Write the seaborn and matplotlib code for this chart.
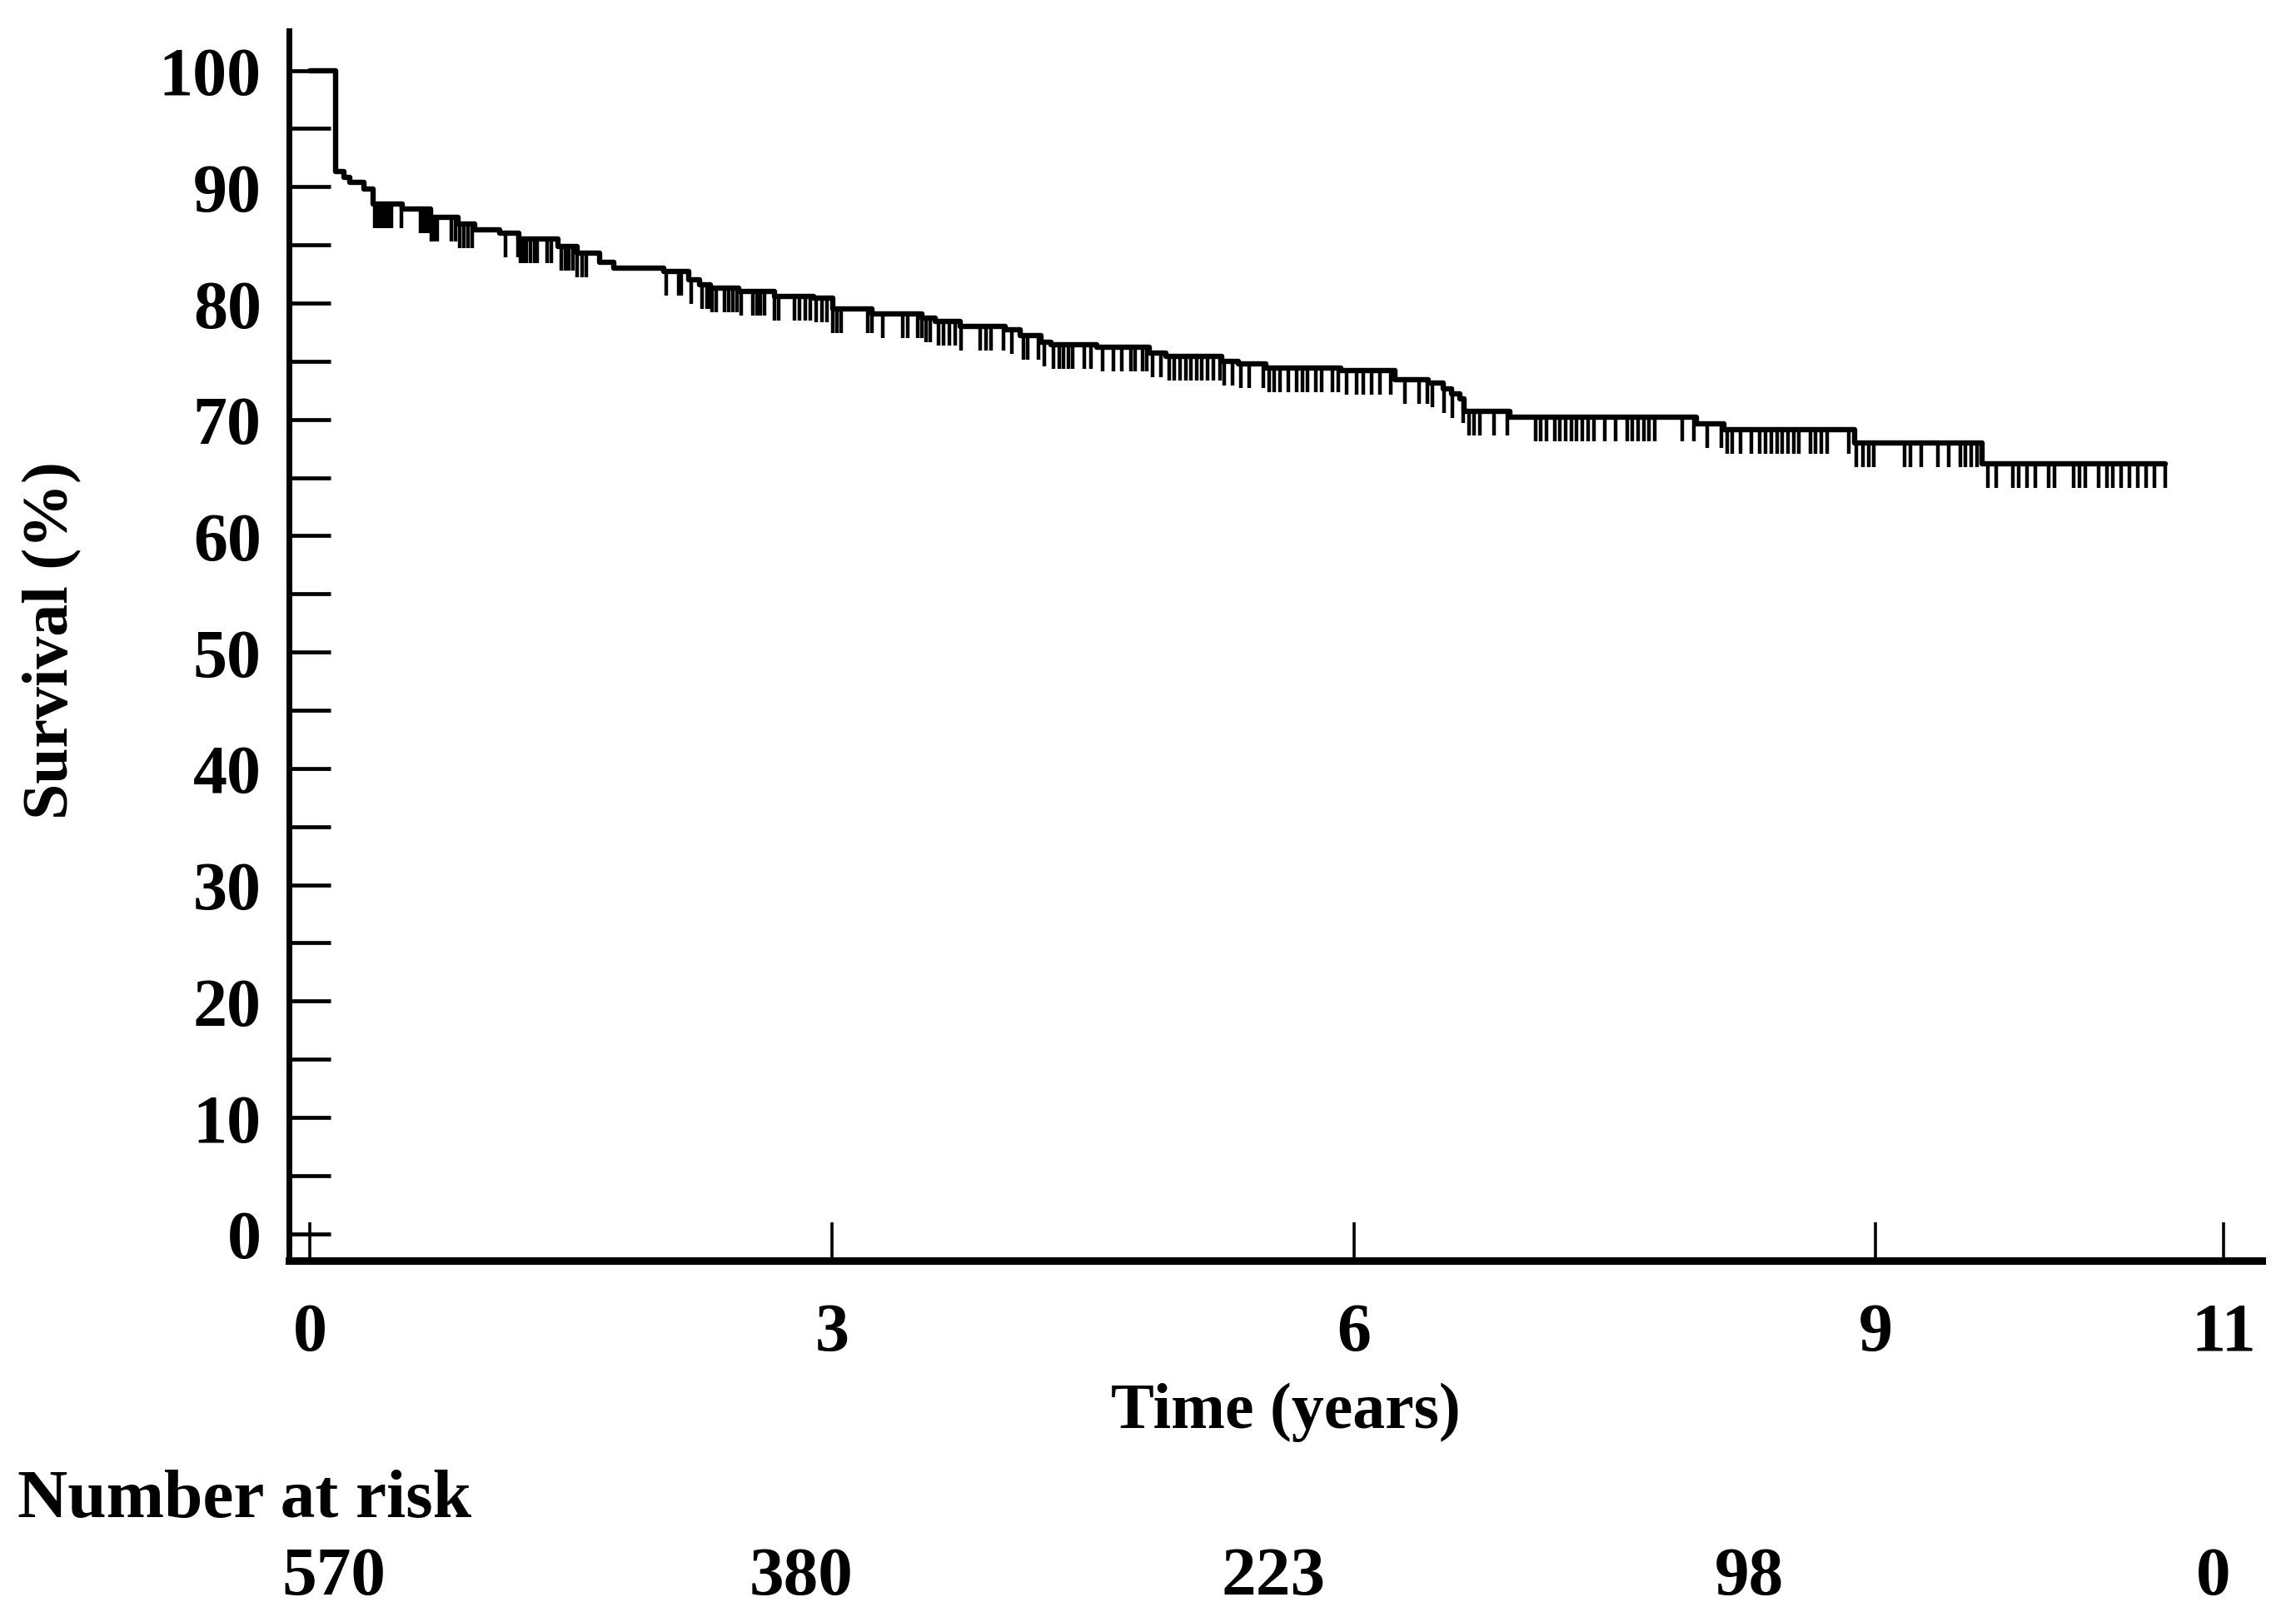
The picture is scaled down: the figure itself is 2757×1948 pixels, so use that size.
import numpy as np
import pandas as pd
import matplotlib
matplotlib.use("Agg")
import matplotlib.pyplot as plt
from matplotlib.markers import TICKDOWN
from matplotlib.ticker import MultipleLocator
import seaborn as sns

# --- Kaplan-Meier curve (years, % surviving) ---
step_years = [0.0, 0.148, 0.196, 0.230, 0.311, 0.364, 0.531, 0.694, 0.852, 0.948,
              1.091, 1.202, 1.427, 1.537, 1.666, 1.747, 2.034, 2.178, 2.240, 2.303,
              2.465, 2.671, 2.896, 3.006, 3.231, 3.518, 3.595, 3.739, 3.997, 4.083,
              4.203, 4.260, 4.524, 4.825, 4.921, 5.242, 5.337, 5.495, 5.926, 6.237,
              6.429, 6.515, 6.563, 6.611, 6.635, 6.898, 7.970, 8.128, 8.880, 9.612]
step_surv = [100.0, 91.3, 90.8, 90.4, 89.8, 88.5, 88.1, 87.4, 86.8, 86.3,
             86.0, 85.5, 84.9, 84.3, 83.5, 83.0, 82.7, 82.0, 81.6, 81.3,
             81.0, 80.6, 80.4, 79.5, 79.1, 78.7, 78.4, 78.0, 77.7, 77.2,
             76.6, 76.4, 76.2, 75.7, 75.4, 75.0, 74.8, 74.4, 74.2, 73.4,
             73.1, 72.6, 72.2, 71.8, 70.7, 70.2, 69.6, 69.1, 68.0, 66.2]
last_year = 10.666

# censored observations (years)
censor_years = [
    0.373, 0.389, 0.405, 0.421, 0.437, 0.450, 0.469, 0.525, 0.637, 0.653, 0.668,
    0.684, 0.700, 0.716, 0.732, 0.812, 0.836, 0.860, 0.884, 0.908, 0.932, 1.123,
    1.195, 1.211, 1.227, 1.243, 1.267, 1.291, 1.307, 1.363, 1.387, 1.443, 1.467,
    1.490, 1.514, 1.538, 1.562, 1.586, 2.049, 2.121, 2.136,
    2.193, 2.256, 2.280, 2.296, 2.312, 2.336, 2.384, 2.408, 2.432, 2.456, 2.480,
    2.544, 2.568, 2.591, 2.615, 2.671, 2.695, 2.783, 2.815, 2.847, 2.878, 2.910,
    2.943, 2.974, 3.006, 3.030, 3.054, 3.206, 3.230, 3.294, 3.405, 3.437, 3.494,
    3.517, 3.541, 3.565, 3.613, 3.644, 3.676, 3.708, 3.740, 3.852, 3.884, 3.916,
    3.988, 4.036, 4.099, 4.123, 4.187, 4.219, 4.275, 4.307,
    4.331, 4.362, 4.386, 4.451, 4.490, 4.554, 4.618, 4.666, 4.721, 4.745, 4.785,
    4.809, 4.841, 4.889, 4.937, 4.970, 5.001, 5.033, 5.065, 5.097, 5.128, 5.160,
    5.192, 5.232, 5.256, 5.304, 5.352, 5.399, 5.479, 5.511, 5.543, 5.575, 5.623,
    5.671, 5.703, 5.735, 5.783, 5.815, 5.878, 5.910, 5.958, 6.014, 6.054, 6.102,
    6.150, 6.213, 6.293, 6.373, 6.421,
    6.453, 6.517, 6.565, 6.629, 6.660, 6.692, 6.724, 6.804, 6.884, 7.043, 7.075,
    7.107, 7.155, 7.186, 7.219, 7.250, 7.282, 7.314, 7.346, 7.378, 7.442, 7.505,
    7.570, 7.602, 7.634, 7.665, 7.697, 7.729, 7.889, 7.953, 8.032, 8.112, 8.144,
    8.176, 8.224, 8.287, 8.335, 8.367, 8.399, 8.431, 8.463, 8.495, 8.527, 8.559,
    8.623, 8.655, 8.687, 8.719, 8.846, 8.886, 8.926, 8.958, 8.990, 9.165, 9.197,
    9.261, 9.357, 9.421, 9.484, 9.517, 9.548, 9.580, 9.644, 9.692, 9.788, 9.820,
    9.868, 9.916, 9.996, 10.028, 10.139, 10.171, 10.203, 10.283, 10.331, 10.363,
    10.411, 10.459, 10.507, 10.555, 10.603, 10.666]

x_ticks = [0, 3, 6, 9, 11]
risk_counts = [570, 380, 223, 98, 0]

# --- style ---
sns.set_style("white")
plt.rcParams['font.family'] = ['Liberation Serif', 'DejaVu Serif']
plt.rcParams['font.weight'] = 'bold'
plt.rcParams['axes.labelweight'] = 'bold'
plt.rcParams['text.color'] = 'black'
plt.rcParams['axes.labelcolor'] = 'black'
plt.rcParams['xtick.color'] = 'black'
plt.rcParams['ytick.color'] = 'black'

fig = plt.figure(figsize=(27.57, 19.49), dpi=100)
ax = fig.add_axes([0.1259, 0.2227, 0.8593, 0.7578])

curve = pd.DataFrame({'years': step_years + [last_year],
                      'surv': step_surv + [step_surv[-1]]})
sns.lineplot(data=curve, x='years', y='surv', drawstyle='steps-post',
             estimator=None, sort=False, color='black', linewidth=4.6, ax=ax)

# censor marks sit on the curve
idx = np.searchsorted(step_years, censor_years, side='right') - 1
censor_surv = np.array(step_surv)[idx]
ax.plot(censor_years, censor_surv, linestyle='none', marker=TICKDOWN,
        markersize=21, markeredgewidth=3.2, color='black')

ax.set_xlim(-0.12, 11.22)
ax.set_ylim(-2.3, 103.4)
ax.set_xticks(x_ticks)
ax.set_xticklabels([str(t) for t in x_ticks])
ax.yaxis.set_major_locator(MultipleLocator(10))
ax.yaxis.set_minor_locator(MultipleLocator(5))

ax.tick_params(axis='y', which='both', left=True, direction='in', length=36,
               width=3.4, pad=24, labelsize=59, color='black')
ax.tick_params(axis='x', which='major', bottom=True, direction='in', length=33,
               width=2.6, pad=36, labelsize=59, color='black')

for side in ['top', 'right']:
    ax.spines[side].set_visible(False)
ax.spines['left'].set_linewidth(5)
ax.spines['bottom'].set_linewidth(6.5)
ax.spines['left'].set_color('black')
ax.spines['bottom'].set_color('black')

ax.set_xlabel("Time (years)", fontsize=56, fontweight='bold', va='center')
ax.xaxis.set_label_coords(0.505, -0.123)
ax.set_ylabel("Survival (%)", fontsize=56, fontweight='bold', va='center')
ax.yaxis.set_label_coords(-0.120, 0.505)

# number at risk table
fig.text(0.0076, 0.0754, "Number at risk", fontsize=60, ha='left', va='center')
risk_pos = [0.1455, 0.349, 0.5546, 0.762, 0.964]
for xp, n in zip(risk_pos, risk_counts):
    fig.text(xp, 0.0277, str(n), fontsize=60, ha='center', va='center')

fig.savefig("out.png", dpi=100, facecolor='white')
